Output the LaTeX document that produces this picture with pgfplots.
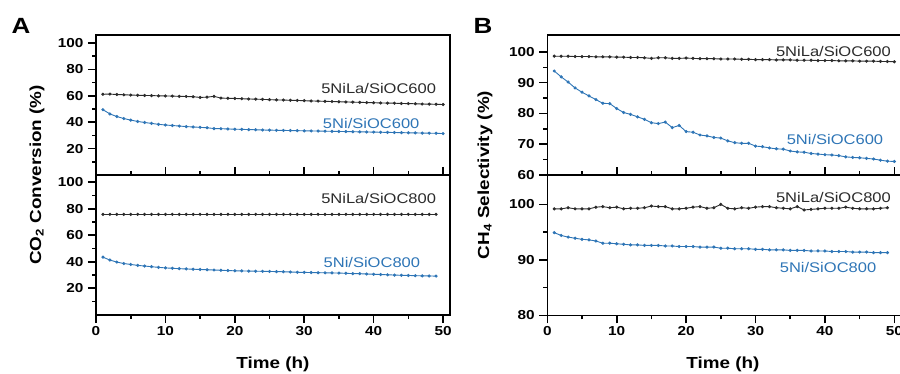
\documentclass[border=0pt]{standalone}
\usepackage{fontspec}
\setmainfont[FakeStretch=1.18]{Liberation Sans}
\usepackage{pgfplots}
\usepackage{pgfplotstable}
\pgfplotsset{compat=1.18}
\definecolor{cblue}{HTML}{2E75B6}
\definecolor{cdark}{HTML}{2B2B2B}

\pgfplotstableread{
t y
1 61.2
2 61.3
3 61.0
4 60.8
5 60.6
6 60.4
7 60.3
8 60.2
9 60.0
10 59.9
11 59.8
12 59.6
13 59.5
14 59.3
15 58.8
16 59.0
17 59.6
18 58.3
19 58.1
20 58.0
21 57.8
22 57.6
23 57.5
24 57.3
25 57.1
26 56.9
27 56.8
28 56.6
29 56.5
30 56.3
31 56.1
32 56.0
33 55.8
34 55.7
35 55.5
36 55.4
37 55.2
38 55.1
39 54.9
40 54.8
41 54.6
42 54.5
43 54.4
44 54.2
45 54.1
46 54.0
47 53.8
48 53.7
49 53.6
50 53.4
}\AlaSix
\pgfplotstableread{
t y
1 49.5
2 46.3
3 44.3
4 42.8
5 41.6
6 40.6
7 39.8
8 39.1
9 38.4
10 37.9
11 37.5
12 37.1
13 36.7
14 36.4
15 36.1
16 35.8
17 35.2
18 35.1
19 34.9
20 34.7
21 34.6
22 34.4
23 34.3
24 34.1
25 34.0
26 33.9
27 33.8
28 33.7
29 33.6
30 33.5
31 33.4
32 33.3
33 33.2
34 33.1
35 33.0
36 32.9
37 32.8
38 32.7
39 32.6
40 32.5
41 32.4
42 32.3
43 32.2
44 32.1
45 32.0
46 31.9
47 31.8
48 31.7
49 31.6
50 31.4
}\AniSix
\pgfplotstableread{
t y
1 75.8
2 75.8
3 75.8
4 75.8
5 75.8
6 75.8
7 75.8
8 75.8
9 75.8
10 75.8
11 75.8
12 75.8
13 75.8
14 75.8
15 75.8
16 75.8
17 75.8
18 75.8
19 75.8
20 75.8
21 75.8
22 75.8
23 75.8
24 75.8
25 75.8
26 75.8
27 75.8
28 75.8
29 75.8
30 75.8
31 75.8
32 75.8
33 75.8
34 75.8
35 75.8
36 75.8
37 75.8
38 75.8
39 75.8
40 75.8
41 75.8
42 75.8
43 75.8
44 75.8
45 75.8
46 75.8
47 75.8
48 75.8
49 75.8
}\AlaEight
\pgfplotstableread{
t y
1 43.5
2 41.3
3 39.8
4 38.7
5 38.0
6 37.3
7 36.8
8 36.3
9 35.8
10 35.4
11 35.1
12 34.8
13 34.6
14 34.4
15 34.2
16 34.0
17 33.8
18 33.6
19 33.4
20 33.2
21 33.1
22 33.0
23 32.9
24 32.8
25 32.7
26 32.6
27 32.5
28 32.3
29 32.1
30 32.0
31 31.9
32 31.8
33 31.7
34 31.6
35 31.5
36 31.3
37 31.1
38 31.0
39 30.8
40 30.6
41 30.4
42 30.2
43 30.0
44 29.8
45 29.7
46 29.5
47 29.4
48 29.3
49 29.2
}\AniEight
\pgfplotstableread{
t y
1 98.6
2 98.6
3 98.6
4 98.5
5 98.5
6 98.5
7 98.4
8 98.4
9 98.4
10 98.3
11 98.3
12 98.2
13 98.2
14 98.1
15 97.9
16 98.1
17 98.1
18 97.9
19 97.9
20 98.0
21 97.9
22 97.8
23 97.8
24 97.8
25 97.7
26 97.7
27 97.7
28 97.6
29 97.6
30 97.5
31 97.5
32 97.5
33 97.4
34 97.4
35 97.4
36 97.3
37 97.3
38 97.3
39 97.2
40 97.2
41 97.2
42 97.1
43 97.1
44 97.1
45 97.0
46 97.0
47 97.0
48 96.9
49 96.9
50 96.8
}\BlaSix
\pgfplotstableread{
t y
1 93.8
2 91.9
3 90.2
4 88.3
5 86.9
6 85.7
7 84.5
8 83.3
9 83.2
10 81.6
11 80.3
12 79.7
13 78.9
14 78.1
15 77.0
16 76.7
17 77.2
18 75.4
19 76.1
20 74.1
21 73.9
22 73.0
23 72.7
24 72.2
25 72.0
26 71.1
27 70.5
28 70.3
29 70.3
30 69.4
31 69.2
32 68.8
33 68.5
34 68.4
35 67.8
36 67.5
37 67.4
38 67.0
39 66.8
40 66.6
41 66.5
42 66.3
43 65.9
44 65.7
45 65.6
46 65.4
47 65.2
48 64.8
49 64.5
50 64.4
}\BniSix
\pgfplotstableread{
t y
1 99.2
2 99.2
3 99.4
4 99.2
5 99.2
6 99.2
7 99.5
8 99.6
9 99.4
10 99.5
11 99.2
12 99.3
13 99.3
14 99.4
15 99.7
16 99.6
17 99.6
18 99.2
19 99.2
20 99.3
21 99.5
22 99.6
23 99.3
24 99.4
25 100.0
26 99.3
27 99.2
28 99.4
29 99.3
30 99.5
31 99.6
32 99.6
33 99.4
34 99.3
35 99.2
36 99.6
37 99.0
38 99.1
39 99.2
40 99.3
41 99.3
42 99.3
43 99.5
44 99.3
45 99.2
46 99.2
47 99.2
48 99.3
49 99.4
}\BlaEight
\pgfplotstableread{
t y
1 94.9
2 94.4
3 94.1
4 93.9
5 93.7
6 93.6
7 93.4
8 93.0
9 93.0
10 92.9
11 92.8
12 92.7
13 92.7
14 92.6
15 92.6
16 92.6
17 92.5
18 92.5
19 92.4
20 92.4
21 92.4
22 92.3
23 92.3
24 92.3
25 92.1
26 92.1
27 92.0
28 92.0
29 92.0
30 91.9
31 91.9
32 91.8
33 91.8
34 91.8
35 91.7
36 91.7
37 91.7
38 91.6
39 91.6
40 91.6
41 91.5
42 91.5
43 91.5
44 91.4
45 91.4
46 91.4
47 91.3
48 91.3
49 91.3
}\BniEight

\pgfplotsset{
  base/.style={
    scale only axis, anchor=south west,
    width=354pt,
    xmin=0, xmax=51,
    axis line style={line width=1.6pt},
    every tick/.style={black, line width=1.6pt},
    major tick length=8pt, minor tick length=4pt,
    tick align=outside, ytick pos=left,
    /pgf/number format/assume math mode=true,
    tick label style={font=\fontsize{13}{13}\selectfont\bfseries},
    yticklabel style={xshift=-1pt},
  },
  toppl/.style={base, xtick=\empty},
  botpl/.style={base, xtick={0,10,...,50}, minor xtick={5,15,...,45},
    xtick pos=both, xticklabel pos=bottom},
  sdark/.style={color=cdark, line width=0.9pt, mark=*, mark size=1.1pt},
  sblue/.style={color=cblue, line width=0.9pt, mark=*, mark size=1.1pt},
}
\tikzset{lab/.style={anchor=east, font=\fontsize{14}{14}\selectfont}}

\begin{document}
\begin{tikzpicture}
\path[use as bounding box] (0pt,0pt) rectangle (900pt,-374pt);

% Panel A
\begin{axis}[botpl, at={(96pt,-314.8pt)}, height=139.8pt, ymin=0, ymax=105.5,
  ytick={20,40,...,100}, minor ytick={10,30,...,90}]
\addplot[sdark] table[x=t,y=y] {\AlaEight};
\addplot[sblue] table[x=t,y=y] {\AniEight};
\node[lab, text=cdark] at (axis cs:49.5,87.4) {5NiLa/SiOC800};
\node[lab, text=cblue] at (axis cs:47.2,39.8) {5Ni/SiOC800};
\end{axis}
\begin{axis}[toppl, at={(96pt,-175pt)}, height=140pt, ymin=0, ymax=106.1,
  ytick={20,40,...,100}, minor ytick={10,30,...,90}]
\addplot[sdark] table[x=t,y=y] {\AlaSix};
\addplot[sblue] table[x=t,y=y] {\AniSix};
\node[lab, text=cdark] at (axis cs:49.5,65.2) {5NiLa/SiOC600};
\node[lab, text=cblue] at (axis cs:47.1,39.4) {5Ni/SiOC600};
\end{axis}

% Panel B
\begin{axis}[botpl, at={(547.3pt,-315.3pt)}, height=140.3pt, ymin=80, ymax=105.3,
  ytick={80,90,100}, minor ytick={85,95}]
\addplot[sdark] table[x=t,y=y] {\BlaEight};
\addplot[sblue] table[x=t,y=y] {\BniEight};
\node[lab, text=cdark] at (axis cs:50,101.3) {5NiLa/SiOC800};
\node[lab, text=cblue] at (axis cs:47.9,88.7) {5Ni/SiOC800};
\end{axis}
\begin{axis}[toppl, at={(547.3pt,-175pt)}, height=140pt, ymin=60, ymax=105.5,
  ytick={60,70,...,100}, minor ytick={65,75,...,95}]
\addplot[sdark] table[x=t,y=y] {\BlaSix};
\addplot[sblue] table[x=t,y=y] {\BniSix};
\node[lab, text=cdark] at (axis cs:50,100) {5NiLa/SiOC600};
\node[lab, text=cblue] at (axis cs:48.9,71.7) {5Ni/SiOC600};
\end{axis}

% Labels
\node[font=\fontsize{22}{22}\selectfont\bfseries] at (21pt,-26pt) {A};
\node[font=\fontsize{22}{22}\selectfont\bfseries] at (483pt,-26pt) {B};
\node[rotate=90, font=\fontsize{16}{16}\selectfont\bfseries] at (37pt,-175pt) {CO\textsubscript{2} Conversion (\%)};
\node[rotate=90, font=\fontsize{16}{16}\selectfont\bfseries] at (485pt,-175pt) {CH\textsubscript{4} Selectivity (\%)};
\node[font=\fontsize{16}{16}\selectfont\bfseries] at (273pt,-364pt) {Time (h)};
\node[font=\fontsize{16}{16}\selectfont\bfseries] at (723pt,-364pt) {Time (h)};
\end{tikzpicture}
\end{document}
